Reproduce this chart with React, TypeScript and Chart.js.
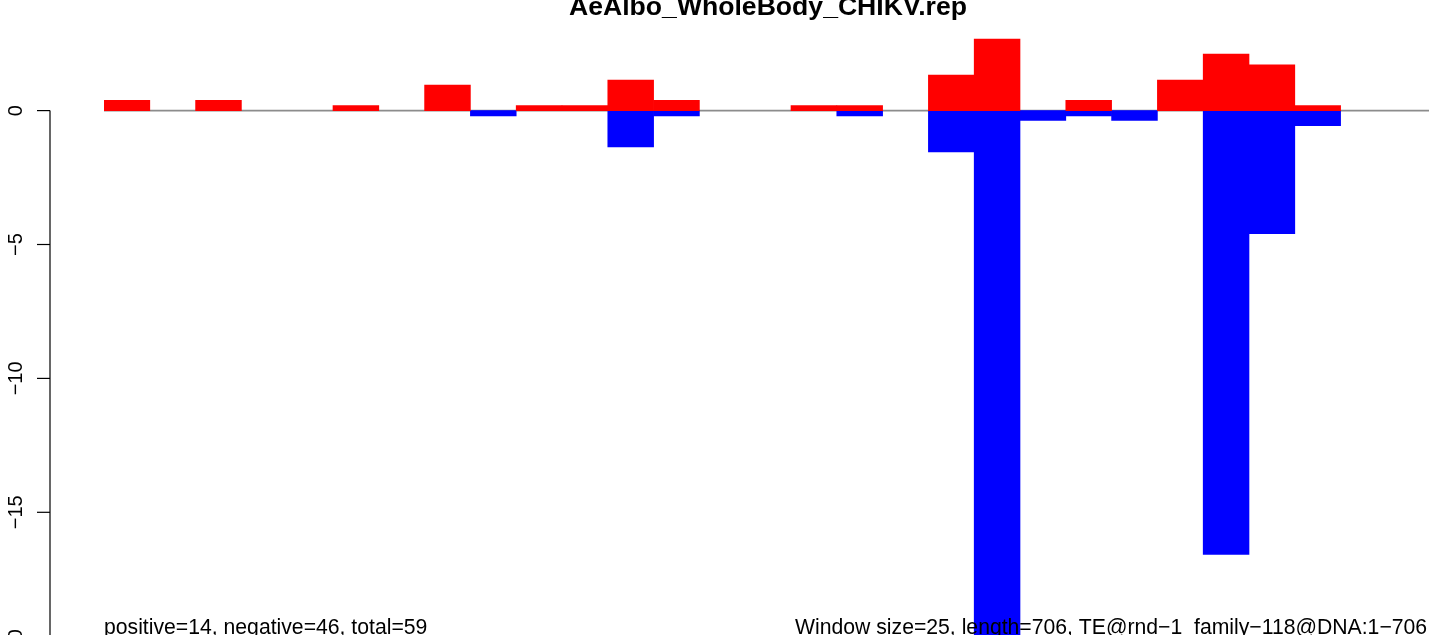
import { useEffect, useRef } from "react";
import { Chart, registerables } from "chart.js";

Chart.register(...registerables);

const TITLE = "AeAlbo_WholeBody_CHIKV.rep";
const STATS_TEXT = "positive=14, negative=46, total=59";
const INFO_TEXT = "Window size=25, length=706, TE@rnd\u22121_family\u2212118@DNA:1\u2212706";

const windows = [
  "1", "2", "3", "4", "5", "6", "7", "8", "9", "10",
  "11", "12", "13", "14", "15", "16", "17", "18", "19", "20",
  "21", "22", "23", "24", "25", "26", "27", "28", "29",
];

const positiveValues = [
  0.38, 0, 0.38, 0, 0, 0.19, 0, 0.95, 0, 0.19,
  0.19, 1.14, 0.38, 0, 0, 0.19, 0.19, 0, 1.33, 2.67,
  0, 0.38, 0, 1.14, 2.11, 1.71, 0.19, 0, 0,
];

const negativeValues = [
  0, 0, 0, 0, 0, 0, 0, 0, -0.2, 0,
  0, -1.36, -0.2, 0, 0, 0, -0.2, 0, -1.54, -21,
  -0.37, -0.2, -0.37, 0, -16.57, -4.6, -0.56, 0, 0,
];

const yTicks = [0, -5, -10, -15, -20];
const yTickLabels = ["0", "\u22125", "\u221210", "\u221215", "\u221220"];

const FONT = '"Liberation Sans", Arial, Helvetica, sans-serif';

const decorPlugin = {
  id: "decor",
  beforeDatasetsDraw(chart: any) {
    const { ctx, chartArea, scales } = chart;
    const y0 = scales.y.getPixelForValue(0);
    ctx.save();
    ctx.strokeStyle = "#8c8c8c";
    ctx.lineWidth = 1.6;
    ctx.beginPath();
    ctx.moveTo(chartArea.left, y0);
    ctx.lineTo(chartArea.right, y0);
    ctx.stroke();
    ctx.restore();
  },
  afterDatasetsDraw(chart: any) {
    const { ctx, scales } = chart;
    const ys = scales.y;
    const axisX = 50;
    ctx.save();
    ctx.strokeStyle = "#000";
    ctx.lineWidth = 1.2;
    ctx.beginPath();
    ctx.moveTo(axisX, ys.getPixelForValue(yTicks[0]));
    ctx.lineTo(axisX, ys.getPixelForValue(yTicks[yTicks.length - 1]));
    ctx.stroke();
    ctx.fillStyle = "#000";
    ctx.font = `20px ${FONT}`;
    ctx.textAlign = "center";
    ctx.textBaseline = "alphabetic";
    yTicks.forEach((v, i) => {
      const py = ys.getPixelForValue(v);
      ctx.beginPath();
      ctx.moveTo(37, py);
      ctx.lineTo(axisX, py);
      ctx.stroke();
      ctx.save();
      ctx.translate(21.5, py);
      ctx.rotate(-Math.PI / 2);
      ctx.fillText(yTickLabels[i], 0, 0);
      ctx.restore();
    });
    ctx.font = `bold 26.6px ${FONT}`;
    ctx.textAlign = "center";
    ctx.fillText(TITLE, 768, 15);
    ctx.font = `21.2px ${FONT}`;
    ctx.textAlign = "left";
    ctx.fillText(STATS_TEXT, 104, 634);
    ctx.fillText(INFO_TEXT, 795, 634);
    ctx.restore();
  },
};

const skipZero = (arr: number[]) => arr.map((v) => (v === 0 ? null : v));

export default function App() {
  const canvasRef = useRef<HTMLCanvasElement | null>(null);

  useEffect(() => {
    const canvas = canvasRef.current;
    if (!canvas) return;
    const chart = new Chart(canvas, {
      type: "bar",
      data: {
        labels: windows,
        datasets: [
          {
            label: "positive",
            data: skipZero(positiveValues),
            backgroundColor: "#ff0000",
            borderWidth: 0,
            grouped: false,
            categoryPercentage: 1,
            barPercentage: 1,
          } as any,
          {
            label: "negative",
            data: skipZero(negativeValues),
            backgroundColor: "#0000ff",
            borderWidth: 0,
            grouped: false,
            categoryPercentage: 1,
            barPercentage: 1,
          } as any,
        ],
      },
      options: {
        responsive: false,
        animation: false,
        devicePixelRatio: 1,
        layout: {
          padding: { left: 104, right: 7.8, top: 30.26, bottom: 3.63 },
        },
        plugins: {
          legend: { display: false },
          tooltip: { enabled: false },
          title: { display: false },
        },
        scales: {
          x: { display: false, offset: true },
          y: { display: false, min: -21.5, max: 3 },
        },
      },
      plugins: [decorPlugin],
    });
    return () => chart.destroy();
  }, []);

  return (
    <div
      style={{
        position: "fixed",
        left: 0,
        top: 0,
        width: 1429,
        height: 635,
        overflow: "hidden",
        background: "#fff",
      }}
    >
      <canvas ref={canvasRef} width={1440} height={690} style={{ display: "block" }} />
    </div>
  );
}
